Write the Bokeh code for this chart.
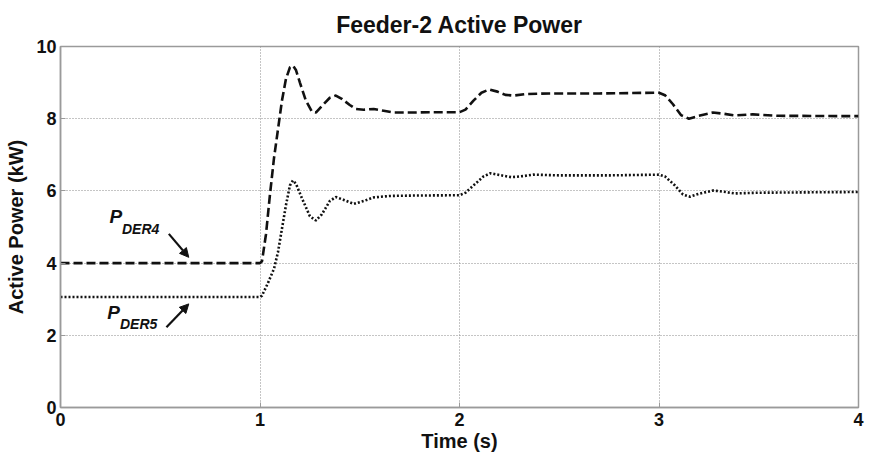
from bokeh.plotting import figure
from bokeh.models import Range1d, FixedTicker, Arrow, NormalHead, Label
from bokeh.embed import file_html
from bokeh.resources import INLINE

# Feeder-2 DER active power response (kW) versus time (s)
t_der4 = [0.0, 0.5, 1.0, 1.01, 1.03, 1.05, 1.07, 1.09, 1.11, 1.13, 1.15, 1.165, 1.18,
          1.20, 1.23, 1.26, 1.28, 1.31, 1.35, 1.38, 1.41, 1.45, 1.48, 1.52, 1.57,
          1.62, 1.67, 1.75, 1.85, 2.0, 2.03, 2.07, 2.11, 2.15, 2.19, 2.23, 2.27,
          2.33, 2.45, 2.7, 3.0, 3.03, 3.07, 3.11, 3.15, 3.2, 3.27, 3.32, 3.38,
          3.47, 3.6, 4.0]
p_der4 = [4.0, 4.0, 4.0, 4.05, 4.8, 5.9, 6.9, 7.7, 8.5, 9.1, 9.42, 9.47, 9.35,
          9.0, 8.5, 8.2, 8.17, 8.35, 8.58, 8.64, 8.55, 8.38, 8.27, 8.25, 8.27,
          8.22, 8.17, 8.17, 8.18, 8.18, 8.25, 8.5, 8.72, 8.81, 8.75, 8.66, 8.64,
          8.68, 8.7, 8.7, 8.72, 8.65, 8.4, 8.1, 8.0, 8.08, 8.17, 8.14, 8.09,
          8.12, 8.08, 8.07]

t_der5 = [0.0, 0.5, 1.0, 1.01, 1.04, 1.07, 1.09, 1.11, 1.13, 1.15, 1.165, 1.18,
          1.21, 1.25, 1.28, 1.31, 1.35, 1.38, 1.42, 1.47, 1.52, 1.57, 1.65, 1.75,
          2.0, 2.03, 2.08, 2.12, 2.155, 2.2, 2.26, 2.32, 2.37, 2.5, 2.75, 3.0,
          3.03, 3.08, 3.12, 3.155, 3.2, 3.27, 3.32, 3.38, 3.5, 4.0]
p_der5 = [3.06, 3.06, 3.06, 3.1, 3.45, 3.84, 4.3, 4.95, 5.6, 6.15, 6.29, 6.2,
          5.8, 5.3, 5.18, 5.35, 5.72, 5.83, 5.75, 5.64, 5.72, 5.82, 5.86, 5.87,
          5.88, 5.95, 6.2, 6.4, 6.49, 6.44, 6.38, 6.41, 6.45, 6.43, 6.43, 6.45,
          6.4, 6.15, 5.9, 5.84, 5.92, 6.01, 5.98, 5.93, 5.95, 5.97]

x_ticks = [0, 1, 2, 3, 4]
y_ticks = [0, 2, 4, 6, 8, 10]

FONT = "'Liberation Sans', Arial, sans-serif"

p = figure(width=869, height=459, output_backend="svg", toolbar_location=None,
           x_range=Range1d(0, 4), y_range=Range1d(0, 10),
           min_border_left=60, min_border_right=11, min_border_top=46,
           min_border_bottom=52, title="Feeder-2 Active Power")

p.title.align = "center"
p.title.text_font = FONT
p.title.text_font_size = "23px"
p.title.text_font_style = "bold"
p.title.text_color = "#111111"
p.title.standoff = 18

p.outline_line_color = "#9a9a9a"
p.outline_line_width = 1.5
p.background_fill_color = "white"
p.border_fill_color = "white"

for ax in (p.xaxis[0], p.yaxis[0]):
    ax.axis_line_color = "#9a9a9a"
    ax.axis_line_width = 1.5
    ax.major_tick_in = 5
    ax.major_tick_out = 0
    ax.major_tick_line_color = "#9a9a9a"
    ax.minor_tick_line_color = None
    ax.major_label_text_font = FONT
    ax.major_label_text_font_size = "18px"
    ax.major_label_text_font_style = "bold"
    ax.major_label_text_color = "#111111"
    ax.axis_label_text_font = FONT
    ax.axis_label_text_font_size = "20px"
    ax.axis_label_text_font_style = "bold"
    ax.axis_label_text_color = "#111111"

p.xaxis.ticker = FixedTicker(ticks=x_ticks)
p.yaxis.ticker = FixedTicker(ticks=y_ticks)
p.xaxis.axis_label = "Time (s)"
p.yaxis.axis_label = "Active Power (kW)"
p.xaxis.major_label_standoff = 5
p.yaxis.major_label_standoff = 4
p.xaxis.axis_label_standoff = 1
p.yaxis.axis_label_standoff = 6

p.grid.grid_line_color = "#8a8a8a"
p.grid.grid_line_dash = "1 2"
p.grid.grid_line_width = 1

p.line(t_der4, p_der4, line_color="#111111", line_width=2.6, line_dash="9 4")
p.line(t_der5, p_der5, line_color="#111111", line_width=2.6, line_dash="2 2")

# curve labels with subscripts
def label(x, y, text, size):
    p.add_layout(Label(x=x, y=y, text=text, text_font=FONT, text_font_size=size,
                       text_font_style="bold italic", text_color="#111111"))

label(0.245, 4.99, "P", "19px")
label(0.308, 4.71, "DER4", "14px")
label(0.234, 2.33, "P", "19px")
label(0.298, 2.08, "DER5", "14px")

for x0, y0, x1, y1 in [(0.543, 4.81, 0.643, 4.16), (0.531, 2.22, 0.643, 2.87)]:
    p.add_layout(Arrow(x_start=x0, y_start=y0, x_end=x1, y_end=y1,
                       line_width=2.2, line_color="#111111",
                       end=NormalHead(size=9, fill_color="#111111",
                                      line_color="#111111")))

open("out.html", "w").write(file_html(p, INLINE))
